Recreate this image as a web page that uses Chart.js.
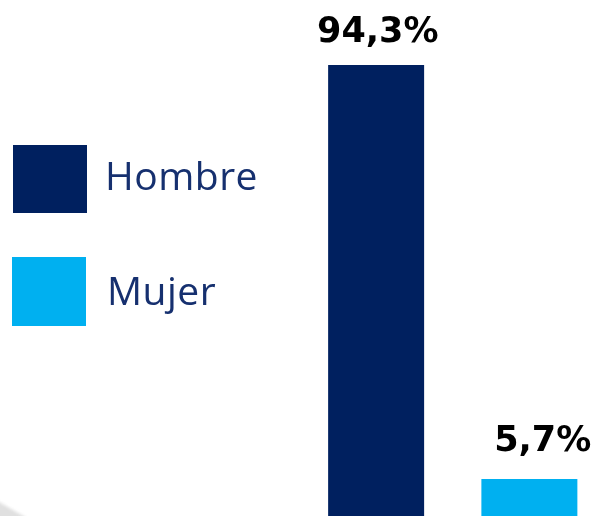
<!DOCTYPE html>
<html>
<head>
<meta charset="utf-8">
<script src="https://cdn.jsdelivr.net/npm/chart.js@4.4.1/dist/chart.umd.min.js"></script>
<style>
  html, body { margin: 0; padding: 0; background: #ffffff; overflow: hidden; width: 596px; height: 516px; }
  #wrap { position: relative; width: 606px; height: 516px; }
  #shadow { position: absolute; left: -34px; top: 504px; width: 64px; height: 34px; background: #d6d6d6; transform: rotate(30deg); filter: blur(1.5px); opacity: 0.75; }
  canvas { position: absolute; left: 0; top: 0; }
</style>
</head>
<body>
<div id="wrap">
  <div id="shadow"></div>
  <canvas id="c" width="606" height="516"></canvas>
</div>
<script>
// ---- Data ----
const categories = ["Hombre", "Mujer"];
const percentValues = [94.3, 5.7];
const barColors = ["#00205F", "#00B0F0"];

// ---- Plugins ----
const valueLabels = {
  id: 'valueLabels',
  afterDatasetsDraw(chart, args, opts) {
    const ctx = chart.ctx;
    const meta = chart.getDatasetMeta(0);
    ctx.save();
    ctx.font = opts.font;
    ctx.fillStyle = opts.color;
    ctx.textAlign = 'center';
    ctx.textBaseline = 'alphabetic';
    meta.data.forEach((el, i) => {
      const v = chart.data.datasets[0].data[i];
      const txt = v.toFixed(1).replace('.', ',') + '%';
      const off = opts.offsets[i] || {dx: 0, dy: -24};
      ctx.fillText(txt, el.x + off.dx, el.y + off.dy);
    });
    ctx.restore();
  }
};

const sideLegend = {
  id: 'sideLegend',
  afterDraw(chart, args, opts) {
    const ctx = chart.ctx;
    const ds = chart.data.datasets[0];
    ctx.save();
    chart.data.labels.forEach((lab, i) => {
      const it = opts.items[i];
      ctx.fillStyle = ds.backgroundColor[i];
      ctx.fillRect(it.boxX, it.boxTop, opts.boxW, it.boxH);
      ctx.font = opts.font;
      if ('letterSpacing' in ctx) ctx.letterSpacing = opts.letterSpacing;
      ctx.fillStyle = opts.color;
      ctx.textAlign = 'left';
      ctx.textBaseline = 'alphabetic';
      ctx.fillText(lab, it.textX, it.baseline);
    });
    ctx.restore();
  }
};

new Chart(document.getElementById('c'), {
  type: 'bar',
  data: {
    labels: categories,
    datasets: [{
      label: 'Sexo',
      data: percentValues,
      backgroundColor: barColors,
      borderWidth: 0,
      base: -2.22,
      categoryPercentage: 1,
      barPercentage: 0.6264
    }]
  },
  options: {
    responsive: false,
    animation: false,
    devicePixelRatio: 1,
    layout: { padding: { left: 299.5, right: 0, top: 0, bottom: 0 } },
    scales: {
      x: { display: false },
      y: { display: false, min: -2.22, max: 108.21 }
    },
    plugins: {
      legend: { display: false },
      tooltip: { enabled: false },
      valueLabels: {
        font: 'bold 35px "DejaVu Sans"',
        color: '#000000',
        offsets: [{dx: 1.7, dy: -22.5}, {dx: 13.3, dy: -28.3}]
      },
      sideLegend: {
        boxW: 74,
        font: '400 39px "Open Sans"',
        letterSpacing: '0.5px',
        color: '#16306F',
        items: [
          {boxX: 13, boxTop: 145, boxH: 68, textX: 105, baseline: 190},
          {boxX: 12, boxTop: 257, boxH: 69, textX: 107, baseline: 304.5}
        ]
      }
    }
  },
  plugins: [valueLabels, sideLegend]
});
</script>
</body>
</html>
